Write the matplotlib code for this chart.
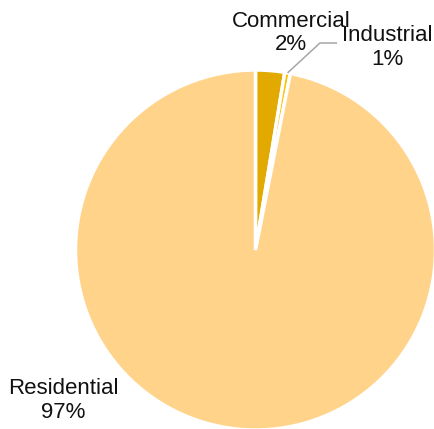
import numpy as np
import matplotlib.pyplot as plt

plt.rcParams['font.family'] = ['Liberation Sans', 'DejaVu Sans']

# sector shares (percent)
sectors = ['Commercial', 'Industrial', 'Residential']
shares = [2.6, 0.5, 96.9]
pct_labels = ['2%', '1%', '97%']
colors = ['#E2AA00', '#FFC000', '#FFD38A']

fig = plt.figure(figsize=(4.35, 4.29), dpi=100)
ax = fig.add_axes([0, 0, 1, 1])

wedges, _ = ax.pie(shares, colors=colors, startangle=90, counterclock=False,
                   radius=1.0, wedgeprops=dict(edgecolor='white', linewidth=2.5))

# place pie in the figure like the reference (180 px per unit)
ax.set_xlim(-255.5 / 180, (435 - 255.5) / 180)
ax.set_ylim(-(429 - 250) / 180, 250 / 180)
ax.set_aspect('auto')
ax.axis('off')

label_pos = [(0.197, 1.205), (0.730, 1.125), (-1.069, -0.835)]
for name, pct, (lx, ly) in zip(sectors, pct_labels, label_pos):
    ax.text(lx, ly, f'{name}\n{pct}', ha='center', va='center',
            fontsize=16, color='#111111', linespacing=1.15)

# leader line for the tiny industrial slice
w = wedges[1]
mid = np.deg2rad((w.theta1 + w.theta2) / 2)
px, py = np.cos(mid), np.sin(mid)
ax.plot([px, 0.358, 0.453], [py, 1.15, 1.15], color='#A6A6A6', lw=1.1,
        solid_capstyle='butt')

fig.savefig('out.png', dpi=100)
